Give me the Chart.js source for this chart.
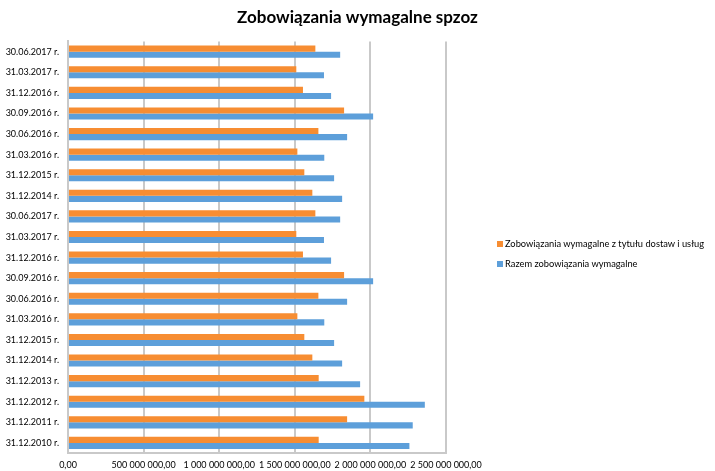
<!DOCTYPE html>
<html>
<head>
<meta charset="utf-8">
<script src="https://cdn.jsdelivr.net/npm/chart.js@4/dist/chart.umd.min.js"></script>
<style>
  html, body { margin: 0; padding: 0; background: #fff; }
  #wrap { width: 715px; height: 471px; position: relative; }
  #legend { position: absolute; left: 497px; top: 238px; font-family: Lato, 'Open Sans', sans-serif; font-size: 9.3px; color: #000; }
  #legend .item { display: flex; align-items: center; height: 11px; margin-bottom: 9px; white-space: nowrap; }
  #legend .sw { width: 6px; height: 6px; margin-right: 2px; display: inline-block; }
</style>
</head>
<body>
<div id="wrap"><canvas id="c" width="715" height="471"></canvas><div id="legend"></div></div>
<script>
const categories = [
  "30.06.2017 r.", "31.03.2017 r.", "31.12.2016 r.", "30.09.2016 r.", "30.06.2016 r.",
  "31.03.2016 r.", "31.12.2015 r.", "31.12.2014 r.", "30.06.2017 r.", "31.03.2017 r.",
  "31.12.2016 r.", "30.09.2016 r.", "30.06.2016 r.", "31.03.2016 r.", "31.12.2015 r.",
  "31.12.2014 r.", "31.12.2013 r.", "31.12.2012 r.", "31.12.2011 r.", "31.12.2010 r."
];
const dostawValues = [
  1636000000, 1510000000, 1554000000, 1826000000, 1656000000,
  1517000000, 1563000000, 1616000000, 1636000000, 1510000000,
  1554000000, 1826000000, 1656000000, 1517000000, 1563000000,
  1616000000, 1658000000, 1960000000, 1846000000, 1658000000
];
const razemValues = [
  1800000000, 1693000000, 1740000000, 2018000000, 1846000000,
  1695000000, 1760000000, 1813000000, 1800000000, 1693000000,
  1740000000, 2018000000, 1846000000, 1695000000, 1760000000,
  1813000000, 1932000000, 2360000000, 2280000000, 2258000000
];
const seriesNames = ["Zobowiązania wymagalne z tytułu dostaw i usług", "Razem zobowiązania wymagalne"];
const seriesColors = ["#F78D32", "#5D9FDA"];
const titleText = "Zobowiązania wymagalne spzoz";

function fmt(v) {
  const s = Math.round(v).toString().replace(/\B(?=(\d{3})+(?!\d))/g, " ");
  return s + ",00";
}

const FONT = "Lato, 'Open Sans', sans-serif";

const chart = new Chart(document.getElementById("c"), {
  type: "bar",
  data: {
    labels: categories,
    datasets: [
      { label: seriesNames[0], data: dostawValues, backgroundColor: seriesColors[0], borderWidth: 0,
        barPercentage: 1.0, categoryPercentage: 0.59 },
      { label: seriesNames[1], data: razemValues, backgroundColor: seriesColors[1], borderWidth: 0,
        barPercentage: 1.0, categoryPercentage: 0.59 }
    ]
  },
  options: {
    indexAxis: "y",
    responsive: false,
    animation: false,
    devicePixelRatio: 1,
    layout: { padding: { left: 0, right: 0, top: 0, bottom: -5 } },
    plugins: {
      title: {
        display: true, text: titleText, color: "#000",
        font: { family: FONT, size: 17, weight: "bold" },
        padding: { top: 7, bottom: 14 }
      },
      legend: { display: false },
      tooltip: { enabled: false }
    },
    scales: {
      x: {
        min: 0, max: 2500000000,
        ticks: { stepSize: 500000000, color: "#000", font: { family: FONT, size: 9 }, padding: 6,
          callback: (v) => fmt(v), maxRotation: 0, autoSkip: false },
        grid: { color: "#C9C9C9", lineWidth: 2, drawTicks: false },
        border: { display: true, color: "#C9C9C9", width: 2 }
      },
      y: {
        ticks: { color: "#000", font: { family: FONT, size: 9 }, padding: 9, autoSkip: false },
        grid: { display: false, drawTicks: false },
        border: { display: true, color: "#C9C9C9", width: 2 },
        afterFit: (s) => { s.width = 68; }
      },
      legendSpace: {
        axis: "y", type: "linear", position: "right", display: true,
        ticks: { display: false },
        grid: { display: false, drawTicks: false },
        border: { display: false },
        afterFit: (s) => { s.width = 269; }
      }
    }
  }
});

const lg = document.getElementById("legend");
chart.data.datasets.forEach((ds) => {
  const it = document.createElement("div");
  it.className = "item";
  const sw = document.createElement("span");
  sw.className = "sw";
  sw.style.background = ds.backgroundColor;
  const tx = document.createElement("span");
  tx.textContent = ds.label;
  it.appendChild(sw);
  it.appendChild(tx);
  lg.appendChild(it);
});
</script>
</body>
</html>
